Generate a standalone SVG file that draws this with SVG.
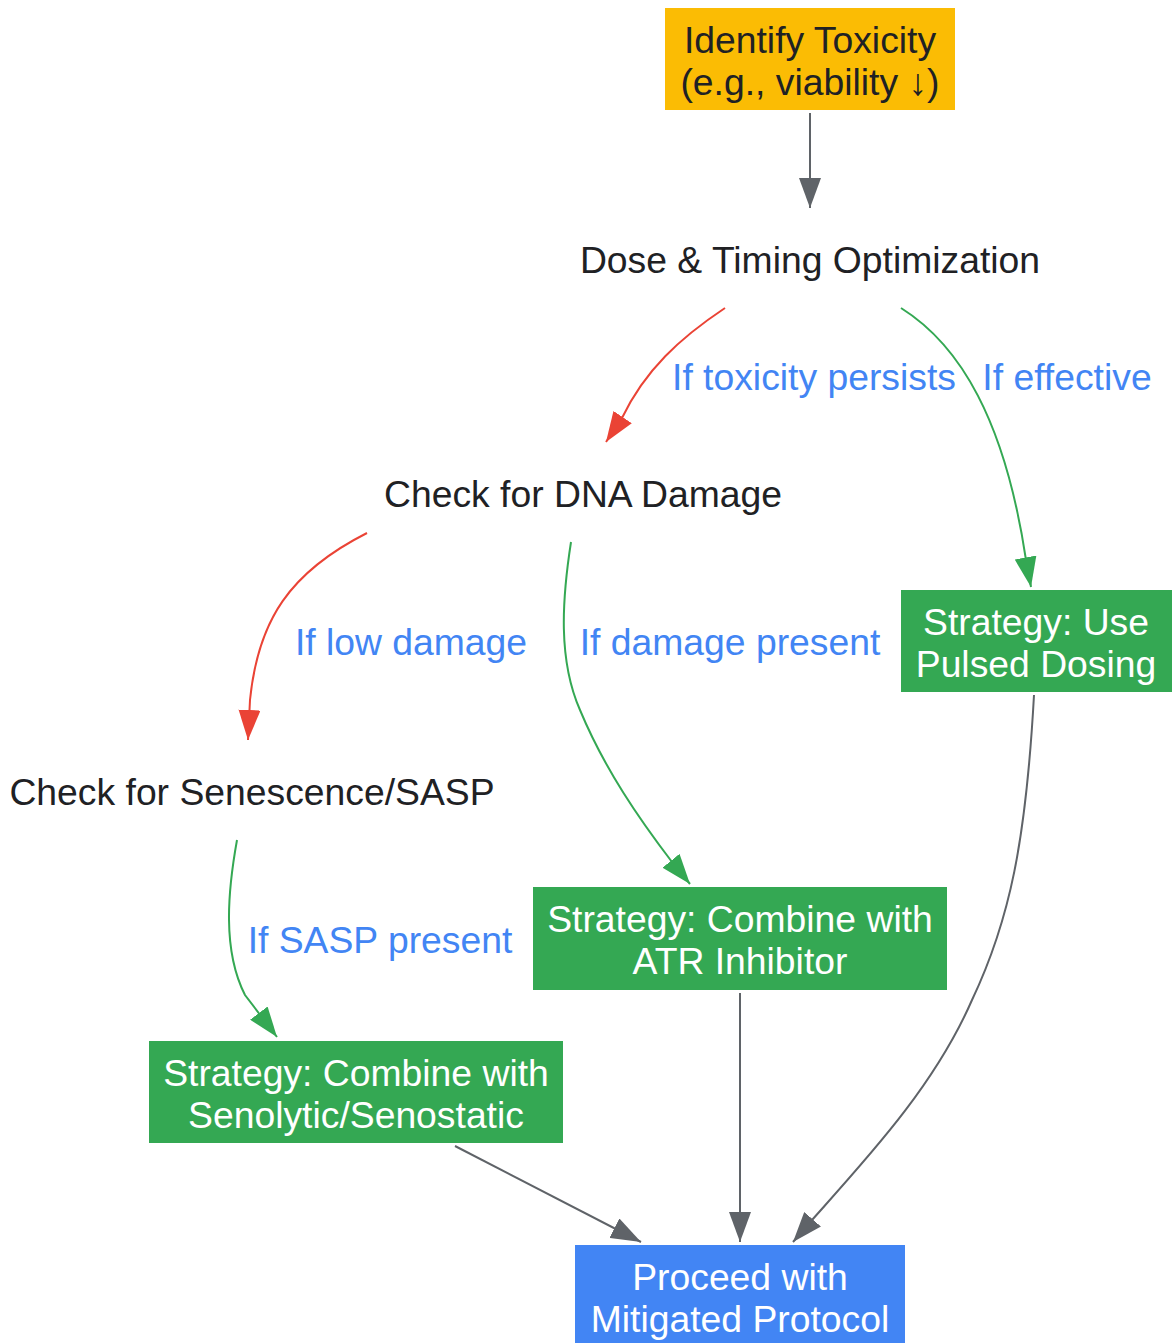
<svg xmlns="http://www.w3.org/2000/svg" width="1172" height="1343" viewBox="0 0 1172 1343">
<style>
  text { font-family: "Liberation Sans", Arial, sans-serif; font-size: 37.3px; text-anchor: middle; }
  .dark { fill: #202124; }
  .white { fill: #ffffff; }
  .lbl { fill: #4285F4; }
  .e { fill: none; stroke-width: 2; }
  .gray { stroke: #5F6368; }
  .red { stroke: #EA4335; }
  .green { stroke: #34A853; }
</style>
<defs>
  <marker id="ag" viewBox="0 0 30 22" refX="30" refY="11" markerWidth="30" markerHeight="22" markerUnits="userSpaceOnUse" orient="auto">
    <path d="M0,0 L30,11 L0,22 z" fill="#5F6368"/>
  </marker>
  <marker id="ar" viewBox="0 0 30 22" refX="30" refY="11" markerWidth="30" markerHeight="22" markerUnits="userSpaceOnUse" orient="auto">
    <path d="M0,0 L30,11 L0,22 z" fill="#EA4335"/>
  </marker>
  <marker id="agr" viewBox="0 0 30 22" refX="30" refY="11" markerWidth="30" markerHeight="22" markerUnits="userSpaceOnUse" orient="auto">
    <path d="M0,0 L30,11 L0,22 z" fill="#34A853"/>
  </marker>
</defs>

<g id="connectors">
  <path class="e gray" d="M810,113 L810,208" marker-end="url(#ag)"/>
  <path class="e red" d="M725,308 C 680,338 645,370 622,418 L606,442" marker-end="url(#ar)"/>
  <path class="e green" d="M901,308 C 960,345 1005,420 1026,560 L1031,587" marker-end="url(#agr)"/>
  <path class="e red" d="M367,533 C 290,572 258,620 250,700 L248,740" marker-end="url(#ar)"/>
  <path class="e green" d="M571,542 C 562,600 558,660 580,710 C 605,770 640,820 672,862 L690,884" marker-end="url(#agr)"/>
  <path class="e green" d="M237,840 C 228,890 222,950 245,995 L277,1037" marker-end="url(#agr)"/>
  <path class="e gray" d="M455,1146 L641,1242" marker-end="url(#ag)"/>
  <path class="e gray" d="M740,993 L740,1242" marker-end="url(#ag)"/>
  <path class="e gray" d="M1034,695 C 1026,840 1010,920 972,1000 C 935,1085 870,1155 812,1220 L793,1242" marker-end="url(#ag)"/>
  <g id="edge-labels">
    <text class="lbl" x="814" y="390">If toxicity persists</text>
    <text class="lbl" x="1067" y="390">If effective</text>
    <text class="lbl" x="411" y="655">If low damage</text>
    <text class="lbl" x="730" y="655">If damage present</text>
    <text class="lbl" x="380" y="953">If SASP present</text>
  </g>
</g>

<g id="node-identify">
  <rect x="665" y="8" width="290" height="102" fill="#FBBC04"/>
  <text class="dark" x="810" y="53">Identify Toxicity</text>
  <text class="dark" x="810" y="95">(e.g., viability ↓)</text>
</g>
<g id="node-dose">
  <text class="dark" x="810" y="273">Dose &amp; Timing Optimization</text>
</g>
<g id="node-dna">
  <text class="dark" x="583" y="507">Check for DNA Damage</text>
</g>
<g id="node-pulsed">
  <rect x="901" y="590" width="271" height="102" fill="#34A853"/>
  <text class="white" x="1036" y="635">Strategy: Use</text>
  <text class="white" x="1036" y="677">Pulsed Dosing</text>
</g>
<g id="node-senescence">
  <text class="dark" x="252" y="805">Check for Senescence/SASP</text>
</g>
<g id="node-atr">
  <rect x="533" y="887" width="414" height="103" fill="#34A853"/>
  <text class="white" x="740" y="932">Strategy: Combine with</text>
  <text class="white" x="740" y="974">ATR Inhibitor</text>
</g>
<g id="node-senolytic">
  <rect x="149" y="1041" width="414" height="102" fill="#34A853"/>
  <text class="white" x="356" y="1086">Strategy: Combine with</text>
  <text class="white" x="356" y="1128">Senolytic/Senostatic</text>
</g>
<g id="node-proceed">
  <rect x="575" y="1245" width="330" height="110" fill="#4285F4"/>
  <text class="white" x="740" y="1290">Proceed with</text>
  <text class="white" x="740" y="1332">Mitigated Protocol</text>
</g>
</svg>
